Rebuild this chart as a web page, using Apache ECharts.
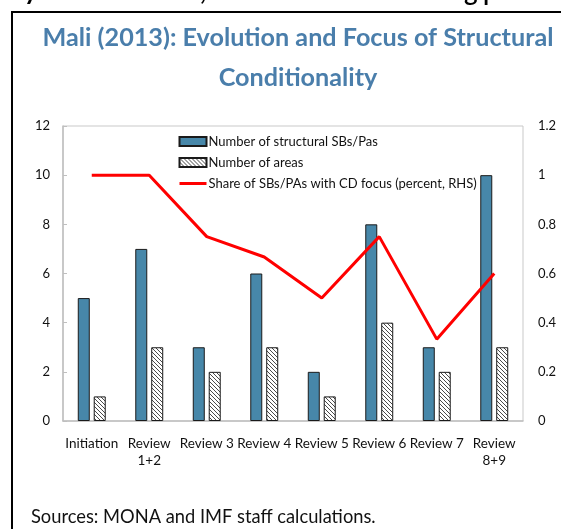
<!DOCTYPE html>
<html>
<head>
<meta charset="utf-8">
<script src="https://cdn.jsdelivr.net/npm/echarts@6/dist/echarts.min.js"></script>
<style>
  html, body { margin: 0; padding: 0; background: #fff; }
  #chart { width: 561px; height: 529px; }
</style>
</head>
<body>
<div id="chart"></div>
<script>
const categories = ['Initiation', 'Review\n1+2', 'Review 3', 'Review 4', 'Review 5', 'Review 6', 'Review 7', 'Review\n8+9']
const sbCount = [5, 7, 3, 6, 2, 8, 3, 10]
const areaCount = [1, 3, 2, 3, 1, 4, 2, 3]
const cdShare = [1, 1, 0.75, 0.667, 0.5, 0.75, 0.333, 0.6]
const seriesNames = ['Number of structural SBs/Pas', 'Number of areas', 'Share of SBs/PAs with CD focus (percent, RHS)']

const font = 'Lato, "Open Sans", sans-serif'

// diagonal hatch for the second bar series
function makeHatch () {
  let c = document.createElement('canvas')
  c.width = 4
  c.height = 4
  let ctx = c.getContext('2d')
  ctx.fillStyle = '#fff'
  ctx.fillRect(0, 0, 4, 4)
  ctx.strokeStyle = '#4a4a4a'
  ctx.lineWidth = 1
  ctx.beginPath()
  ctx.moveTo(-1, -1)
  ctx.lineTo(5, 5)
  ctx.moveTo(-1, 3)
  ctx.lineTo(1, 5)
  ctx.moveTo(3, -1)
  ctx.lineTo(5, 1)
  ctx.stroke()
  return c
}

let myChart = echarts.init(document.getElementById('chart'))
let hatch = { image: makeHatch(), repeat: 'repeat' }

let option = {
  backgroundColor: '#fff',
  animation: false,
  textStyle: { fontFamily: font },
  title: {
    text: 'Mali (2013): Evolution and Focus of Structural\nConditionality',
    left: 293,
    top: 13,
    textAlign: 'center',
    textStyle: {
      color: '#4a7eab',
      fontSize: 25.2,
      fontWeight: 'bold',
      lineHeight: 40,
      fontFamily: font
    }
  },
  graphic: [
    {
      type: 'polyline',
      shape: { points: [[12, 529], [12, 12], [561, 12]] },
      style: { stroke: '#000', lineWidth: 2, fill: null }
    },
    { type: 'text', x: 24, y: -8, style: { text: 'y', font: 'bold 26px ' + font, fill: '#000', verticalAlign: 'middle' } },
    { type: 'text', x: 200, y: -8, style: { text: ',', font: 'bold 26px ' + font, fill: '#000', verticalAlign: 'middle' } },
    { type: 'text', x: 464, y: -8, style: { text: 'g', font: '600 26px ' + font, fill: '#000', verticalAlign: 'middle' } },
    { type: 'text', x: 483, y: -8, style: { text: 'p', font: '600 26px ' + font, fill: '#000', verticalAlign: 'middle' } },
    {
      type: 'text',
      left: 31,
      top: 508,
      style: { text: 'Sources: MONA and IMF staff calculations.', font: '18.3px ' + font, fill: '#111' }
    }
  ],
  legend: {
    orient: 'vertical',
    left: 173,
    top: 130,
    itemWidth: 27,
    itemHeight: 9,
    itemGap: 8,
    textStyle: { color: '#111', fontSize: 13, padding: [0, 0, 0, -3] },
    data: [
      { name: seriesNames[0], icon: 'rect' },
      { name: seriesNames[1], icon: 'rect' },
      { name: seriesNames[2], itemStyle: { opacity: 0 }, lineStyle: { width: 3 } }
    ]
  },
  grid: {
    left: 63,
    right: 38,
    top: 126,
    bottom: 108,
    show: true,
    borderColor: '#c9c9c9',
    borderWidth: 1
  },
  xAxis: {
    type: 'category',
    data: categories,
    axisLine: { lineStyle: { color: '#bfbfbf', width: 1.5 } },
    axisTick: { inside: true, length: 4, lineStyle: { color: '#bfbfbf' } },
    axisLabel: { color: '#111', fontSize: 13.5, interval: 0, margin: 14, lineHeight: 17 }
  },
  yAxis: [{
    type: 'value',
    min: 0,
    max: 12,
    interval: 2,
    axisLine: { show: true, lineStyle: { color: '#bfbfbf', width: 1.5 } },
    axisTick: { show: true, inside: true, length: 4, lineStyle: { color: '#bfbfbf' } },
    axisLabel: { color: '#111', fontSize: 13, margin: 13 },
    splitLine: { show: false }
  }, {
    type: 'value',
    min: 0,
    max: 1.2,
    interval: 0.2,
    axisLine: { show: false },
    axisTick: { show: false },
    axisLabel: {
      color: '#111',
      fontSize: 13,
      margin: 15,
      formatter: function (v) {
        return String(+v.toFixed(1))
      }
    },
    splitLine: { show: false }
  }],
  series: [
    {
      name: seriesNames[0],
      type: 'bar',
      data: sbCount,
      barWidth: 12,
      barGap: '33%',
      itemStyle: { color: '#4787a9', borderColor: '#1a1a1a', borderWidth: 1 }
    },
    {
      name: seriesNames[1],
      type: 'bar',
      data: areaCount,
      barWidth: 12,
      itemStyle: { color: hatch, borderColor: '#1a1a1a', borderWidth: 1 }
    },
    {
      name: seriesNames[2],
      type: 'line',
      yAxisIndex: 1,
      data: cdShare,
      symbol: 'none',
      lineStyle: { color: '#ff0000', width: 3 },
      itemStyle: { color: '#ff0000' }
    }
  ]
}

myChart.setOption(option, true)
</script>
</body>
</html>
